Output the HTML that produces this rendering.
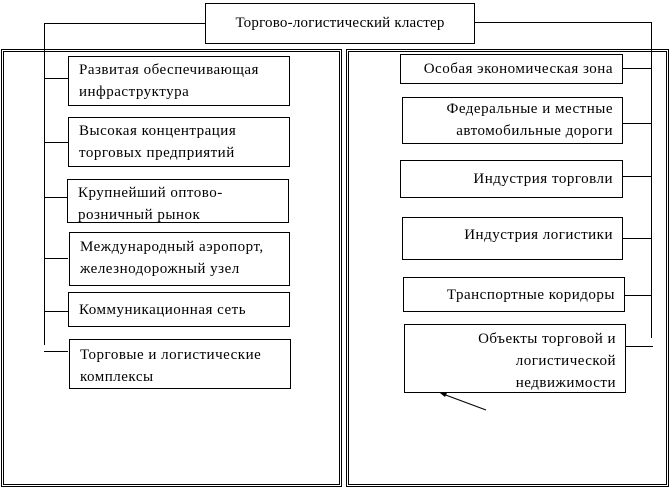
<!DOCTYPE html>
<html><head><meta charset="utf-8"><style>
body{margin:0;width:669px;height:487px;background:#fff;position:relative;overflow:hidden;font-family:"Liberation Serif","DejaVu Serif",serif;font-size:15px;letter-spacing:0.5px;color:#000}
.b{position:absolute;border:1px solid #000;background:#fff;box-sizing:border-box;line-height:22px;white-space:nowrap}
.l{padding:2px 0 0 10px;text-align:left}
.r{padding:2px 9px 0 0;text-align:right}
.p{position:absolute;border:3px double #000;box-sizing:border-box}
svg{position:absolute;left:0;top:0}
</style></head><body>
<div class="p" style="left:1px;top:49px;width:341px;height:438px"></div>
<div class="p" style="left:346px;top:49px;width:323px;height:438px"></div>
<svg width="669" height="487">
<g stroke="#000" stroke-width="1" fill="none">
<polyline points="205,23.5 44.5,23.5 44.5,345"/>
<line x1="44" y1="78.5" x2="68" y2="78.5"/>
<line x1="44" y1="142.5" x2="68" y2="142.5"/>
<line x1="44" y1="197.5" x2="68" y2="197.5"/>
<line x1="44" y1="258.5" x2="68" y2="258.5"/>
<line x1="44" y1="311.5" x2="68" y2="311.5"/>
<line x1="44" y1="351.5" x2="68" y2="351.5"/>
<polyline points="474,22.5 651.5,22.5 651.5,338"/>
<line x1="622" y1="68.5" x2="652" y2="68.5"/>
<line x1="622" y1="123.5" x2="652" y2="123.5"/>
<line x1="622" y1="176.5" x2="652" y2="176.5"/>
<line x1="622" y1="238.5" x2="652" y2="238.5"/>
<line x1="624" y1="295.5" x2="652" y2="295.5"/>
<line x1="625" y1="346.5" x2="653" y2="346.5"/>
<line x1="486" y1="410" x2="443" y2="394"/>
</g>
<polygon points="440,393 447,393 445,397" fill="#000"/>
</svg>
<div class="b" style="left:205px;top:3px;width:270px;height:41px;text-align:center;line-height:38px;letter-spacing:0.2px">Торгово-логистический кластер</div>
<div class="b l" style="left:68px;top:56px;width:222px;height:50px">Развитая обеспечивающая<br>инфраструктура</div>
<div class="b l" style="left:68px;top:117px;width:222px;height:50px">Высокая концентрация<br>торговых предприятий</div>
<div class="b l" style="left:67px;top:179px;width:222px;height:44px;overflow:hidden">Крупнейший оптово-<br>розничный рынок</div>
<div class="b l" style="left:69px;top:232px;width:221px;height:54px;padding-top:3px">Международный аэропорт,<br>железнодорожный узел</div>
<div class="b l" style="left:68px;top:292px;width:222px;height:35px;padding-top:6px">Коммуникационная сеть</div>
<div class="b l" style="left:69px;top:339px;width:222px;height:50px;padding-top:4px">Торговые и логистические<br>комплексы</div>
<div class="b r" style="left:400px;top:54px;width:223px;height:30px;padding-top:3px">Особая экономическая зона</div>
<div class="b r" style="left:402px;top:97px;width:221px;height:47px;padding-top:0px">Федеральные и местные<br>автомобильные дороги</div>
<div class="b r" style="left:400px;top:160px;width:223px;height:38px;padding-top:7px">Индустрия торговли</div>
<div class="b r" style="left:402px;top:217px;width:221px;height:43px;padding-top:6px">Индустрия логистики</div>
<div class="b r" style="left:403px;top:277px;width:222px;height:35px;padding-top:6px">Транспортные коридоры</div>
<div class="b r" style="left:404px;top:324px;width:222px;height:69px;padding-top:3px">Объекты торговой и<br>логистической<br>недвижимости</div>
</body></html>
